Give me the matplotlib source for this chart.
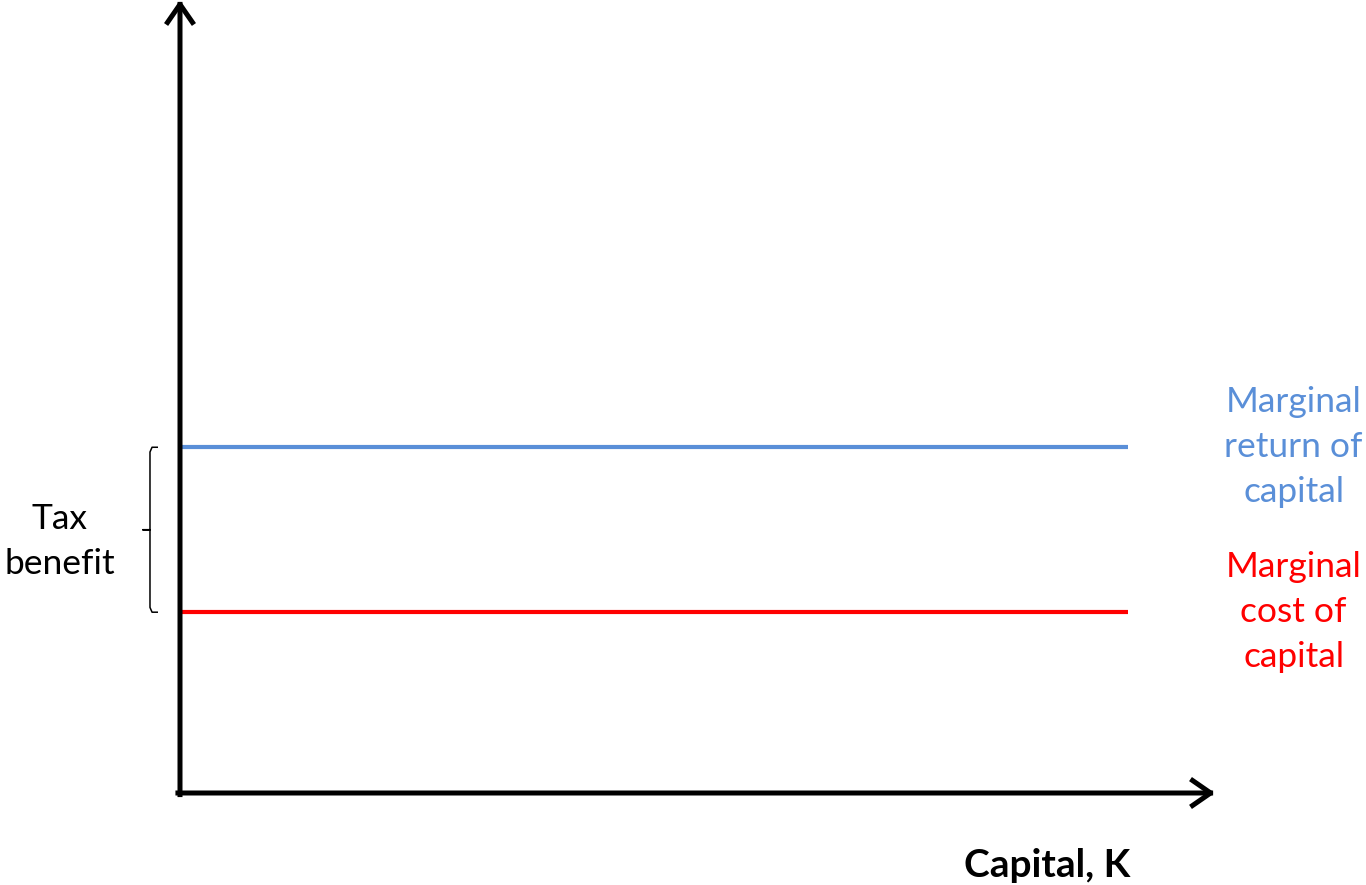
import matplotlib.pyplot as plt

# levels of the two curves (flat lines), in chart units
capital = [0, 9.16]
marginal_return = [4.36, 4.36]
marginal_cost = [2.28, 2.28]

blue = '#5A8FD8'
red = '#FF0000'

fig = plt.figure(figsize=(13.66, 8.85), dpi=100)
ax = fig.add_axes([180/1366, 92/885, 1035/1366, 793/885])
ax.set_xlim(0, 10)
ax.set_ylim(0, 10)
ax.axis('off')

# axes with arrow heads
arrow = dict(arrowstyle='->,head_length=0.65,head_width=0.45', lw=3.6, color='black',
             mutation_scale=20, shrinkA=0, shrinkB=0, capstyle='projecting')
ax.annotate('', xy=(0, 10), xytext=(0, -0.02), arrowprops=arrow, annotation_clip=False)
ax.annotate('', xy=(10, 0), xytext=(-0.02, 0), arrowprops=arrow, annotation_clip=False)

# the two lines
ax.plot(capital, marginal_return, color=blue, lw=3, solid_capstyle='butt')
ax.plot(capital, marginal_cost, color=red, lw=3, solid_capstyle='butt')

# brace showing the tax benefit
top = marginal_return[0]
bot = marginal_cost[0]
mid = (top + bot) / 2
bx = -0.29
bx_tip = -0.22
r = 0.06
brace_x = [bx_tip, bx + 0.02, bx, bx, bx - 0.07, bx, bx, bx + 0.02, bx_tip]
brace_y = [top, top, top - r, mid, mid, mid, bot + r, bot, bot]
ax.plot(brace_x, brace_y, color='black', lw=1.1, clip_on=False)

font = 'Lato'
fs = 25.5
ls = 1.5
ax.text(-1.16, 3.17, 'Tax\nbenefit', ha='center', va='center', fontsize=fs,
        family=font, linespacing=ls)
ax.text(10.76, 4.36, 'Marginal\nreturn of\ncapital', ha='center', va='center',
        fontsize=fs, family=font, color=blue, linespacing=ls)
ax.text(10.76, 2.28, 'Marginal\ncost of\ncapital', ha='center', va='center',
        fontsize=fs, family=font, color=red, linespacing=ls)
ax.text(8.38, -0.91, 'Capital, K', ha='center', va='center', fontsize=28,
        family=font, fontweight='bold')

fig.savefig('out.png', dpi=100)
